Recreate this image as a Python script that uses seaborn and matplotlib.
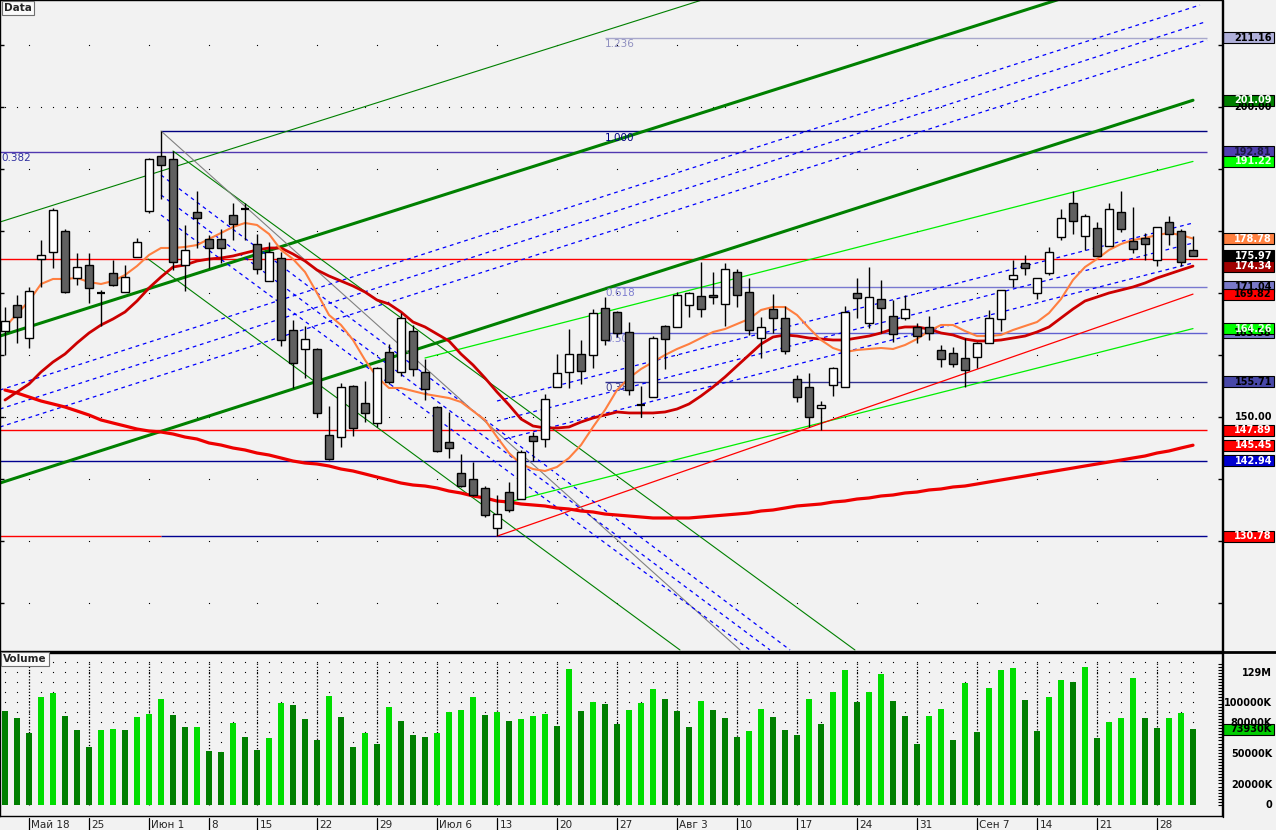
import matplotlib
matplotlib.use("Agg")
import matplotlib.pyplot as plt
import matplotlib.transforms as mtransforms
from matplotlib.lines import Line2D
from matplotlib.patches import Rectangle
import numpy as np
import pandas as pd
import seaborn as sns

# ---- data --------------------------------------------------------------
week_labels = ["Май 18", "25", "Июн 1", "8", "15", "22", "29", "Июл 6", "13", "20",
               "27", "Авг 3", "10", "17", "24", "31", "Сен 7", "14", "21", "28"]
week_start_bars = [2, 7, 12, 17, 21, 26, 31, 36, 41, 46, 51, 56, 61, 66, 71, 76,
                   81, 86, 91, 96]

opens = [163.87, 168.06, 162.74, 175.48, 176.61, 180.00, 172.42, 174.52, 170.00, 173.23,
         170.16, 175.81, 183.23, 192.10, 191.61, 174.52, 183.06, 178.71, 178.71, 182.58,
         183.55, 177.90, 171.94, 175.65, 164.03, 160.97, 160.97, 147.10, 146.77, 155.00,
         152.26, 149.03, 160.48, 157.26, 163.87, 157.26, 151.61, 145.97, 140.97, 140.00,
         138.55, 132.10, 137.90, 136.77, 146.94, 146.45, 154.84, 157.26, 160.16, 160.00,
         167.58, 166.94, 163.71, 151.94, 153.23, 164.68, 164.52, 168.06, 169.52, 169.68,
         168.23, 173.39, 170.16, 162.74, 167.42, 165.97, 156.13, 154.84, 151.45, 155.16,
         154.84, 170.00, 165.16, 169.03, 166.29, 165.97, 164.52, 164.52, 160.81, 160.32,
         159.52, 159.68, 161.94, 165.81, 172.26, 174.84, 170.00, 173.23, 179.03, 184.52,
         179.19, 180.48, 177.58, 183.06, 178.39, 178.87, 175.32, 181.45, 180.00, 176.94]
highs = [167.74, 169.68, 170.97, 178.55, 183.71, 180.32, 176.45, 176.45, 170.48, 175.32,
         174.52, 178.87, 191.77, 196.13, 192.90, 180.97, 186.45, 179.35, 180.32, 184.52,
         184.52, 179.52, 178.23, 176.61, 165.65, 164.68, 161.13, 151.77, 155.48, 155.16,
         155.81, 158.06, 161.77, 166.77, 164.84, 159.35, 151.77, 150.81, 144.03, 142.74,
         138.87, 137.42, 139.52, 144.68, 147.58, 153.71, 160.16, 164.19, 162.42, 167.42,
         169.35, 167.10, 165.32, 155.00, 163.06, 164.84, 170.16, 170.16, 175.00, 173.39,
         174.84, 173.87, 172.42, 166.13, 169.84, 167.90, 156.77, 157.10, 152.58, 158.06,
         167.90, 172.42, 174.19, 172.10, 168.87, 169.68, 165.16, 166.29, 161.61, 161.29,
         162.74, 162.10, 167.26, 170.48, 175.32, 176.13, 172.42, 177.42, 183.55, 186.45,
         182.74, 181.45, 184.52, 186.45, 183.87, 179.68, 180.65, 182.42, 180.32, 179.19]
lows = [160.00, 161.94, 161.13, 170.97, 174.03, 170.00, 171.29, 168.39, 164.68, 171.13,
        170.16, 175.81, 182.90, 185.16, 173.71, 170.32, 177.26, 174.03, 174.84, 178.55,
        178.55, 173.06, 171.94, 161.45, 154.68, 156.29, 150.00, 143.06, 145.16, 146.94,
        149.19, 148.39, 155.32, 156.61, 156.61, 152.74, 144.35, 143.39, 138.71, 137.26,
        133.87, 130.78, 134.68, 136.77, 142.90, 145.16, 154.84, 154.68, 155.32, 157.90,
        161.61, 162.90, 153.55, 150.00, 153.23, 157.74, 164.52, 166.13, 166.13, 168.23,
        164.68, 167.74, 163.23, 159.52, 163.55, 160.16, 152.42, 148.39, 147.90, 153.39,
        154.84, 165.97, 164.35, 163.55, 162.10, 165.65, 161.94, 162.42, 158.06, 158.06,
        154.84, 157.90, 161.94, 163.87, 170.97, 172.90, 169.03, 172.90, 178.55, 179.52,
        176.94, 175.97, 177.58, 179.84, 176.45, 175.32, 174.35, 177.74, 174.35, 175.97]
closes = [165.48, 166.13, 170.32, 176.13, 183.39, 170.16, 174.19, 170.81, 170.05, 171.29,
          172.58, 178.23, 191.61, 190.65, 175.00, 176.94, 182.10, 177.26, 177.26, 181.13,
          183.50, 173.87, 176.61, 162.42, 158.71, 162.58, 150.65, 143.23, 154.84, 148.23,
          150.65, 157.90, 155.65, 165.97, 157.74, 154.52, 144.52, 145.00, 138.87, 137.42,
          134.19, 134.35, 135.00, 144.35, 146.13, 152.90, 157.10, 160.16, 157.42, 166.77,
          162.42, 163.55, 154.35, 151.90, 162.74, 162.58, 169.68, 170.00, 167.42, 169.35,
          173.87, 169.68, 164.03, 164.52, 165.97, 160.65, 153.23, 150.00, 151.94, 157.90,
          166.94, 169.19, 169.35, 167.58, 163.39, 167.42, 163.06, 163.55, 159.35, 158.55,
          157.58, 161.94, 165.97, 170.48, 172.90, 174.03, 172.42, 176.61, 182.10, 181.61,
          182.42, 175.97, 183.55, 180.32, 177.10, 177.90, 180.65, 179.52, 175.00, 175.97]
volume_k = [91800, 84600, 69800, 105300, 109500, 86600, 72800, 56100, 72800, 73800,
            72800, 85600, 88500, 103300, 87600, 75700, 76000, 53100, 52100, 79700,
            65900, 54100, 64900, 99400, 97400, 83600, 63000, 106200, 85600, 56100,
            69800, 60000, 95400, 81600, 67900, 65900, 69800, 90500, 92500, 105300,
            87600, 90500, 81600, 83600, 86600, 88500, 76700, 132800, 91500, 100300,
            98400, 78700, 92500, 99400, 113100, 103300, 91500, 75700, 101300, 92500,
            84600, 65900, 71800, 93500, 85600, 72800, 67900, 103300, 78700, 110200,
            131800, 100300, 110200, 127900, 101300, 86600, 60000, 86600, 93500, 63000,
            119000, 70800, 114100, 131800, 133800, 102300, 71800, 105300, 122000, 120000,
            134800, 64900, 80700, 84600, 123900, 84600, 74800, 84600, 89500, 73930]
ma_fast = [164.52, 166.61, 168.71, 171.45, 172.26, 172.26, 172.42, 171.77, 171.45, 171.94,
           172.90, 174.35, 176.13, 177.26, 177.26, 177.42, 177.74, 178.71, 179.68, 180.65,
           181.29, 180.97, 179.52, 176.94, 175.48, 173.39, 170.00, 166.45, 164.84, 162.42,
           159.19, 156.45, 154.68, 154.68, 154.19, 153.71, 153.39, 153.06, 152.42, 150.97,
           149.52, 146.77, 144.19, 142.42, 141.61, 141.29, 141.94, 143.39, 145.48, 148.39,
           151.13, 154.35, 156.29, 157.74, 158.87, 160.00, 160.97, 161.77, 162.74, 163.71,
           164.19, 165.00, 165.81, 167.26, 167.74, 167.74, 166.45, 164.35, 162.42, 161.13,
           160.48, 160.81, 160.97, 161.13, 160.97, 161.61, 162.58, 163.87, 164.84, 164.84,
           163.87, 163.06, 163.06, 163.23, 164.03, 164.68, 165.32, 166.77, 169.03, 172.10,
           174.19, 175.48, 176.94, 177.90, 178.55, 178.87, 179.35, 179.68, 179.35, 178.78]
ma_mid = [152.74, 154.03, 155.32, 157.26, 158.87, 160.16, 161.94, 163.55, 164.84, 165.81,
          166.94, 168.71, 170.81, 172.58, 174.19, 174.52, 175.16, 175.48, 175.65, 175.97,
          176.45, 176.94, 177.26, 177.26, 176.29, 175.16, 173.71, 172.74, 171.94, 171.13,
          170.16, 168.87, 168.23, 166.94, 165.32, 164.52, 163.39, 162.26, 160.16, 158.39,
          156.29, 154.03, 151.94, 149.68, 148.55, 148.23, 148.23, 148.39, 149.19, 149.84,
          150.32, 150.81, 150.65, 150.65, 150.65, 150.81, 151.29, 152.10, 153.39, 154.84,
          156.45, 158.23, 160.00, 161.77, 162.90, 163.23, 163.06, 162.74, 162.58, 162.42,
          162.42, 162.74, 163.06, 163.55, 164.19, 164.52, 164.52, 164.19, 163.55, 163.23,
          162.58, 162.26, 162.26, 162.42, 162.74, 163.06, 163.71, 164.52, 165.97, 167.42,
          168.71, 169.35, 170.00, 170.48, 170.97, 171.61, 172.42, 173.06, 173.71, 174.34]
ma_slow = [154.35, 153.87, 153.23, 152.58, 152.10, 151.61, 150.97, 150.32, 149.52, 149.03,
           148.55, 148.06, 147.74, 147.58, 147.26, 146.77, 146.45, 145.81, 145.48, 145.00,
           144.68, 144.19, 143.87, 143.39, 142.90, 142.58, 142.42, 142.10, 141.61, 141.29,
           140.81, 140.32, 139.84, 139.35, 139.03, 138.87, 138.55, 138.06, 137.74, 137.26,
           136.94, 136.45, 136.29, 135.97, 135.81, 135.65, 135.32, 135.16, 134.84, 134.68,
           134.35, 134.19, 134.03, 133.87, 133.71, 133.71, 133.71, 133.71, 133.87, 134.03,
           134.19, 134.35, 134.52, 134.84, 135.00, 135.32, 135.65, 135.81, 135.97, 136.29,
           136.45, 136.77, 136.94, 137.26, 137.42, 137.74, 137.90, 138.23, 138.39, 138.71,
           138.87, 139.19, 139.52, 139.84, 140.16, 140.48, 140.81, 141.13, 141.45, 141.77,
           142.10, 142.42, 142.74, 143.06, 143.39, 143.71, 144.19, 144.52, 145.00, 145.45]

# drawn objects: (bar0, price0, bar1, price1)
trend_lines = {
    "green_thick_up": (-0.42, 163.06, 87.92, 217.42),
    "green_thick_lo": (-0.42, 139.35, 99.0, 201.09),
    "green_thin_up": (-0.42, 181.45, 58.08, 217.26),
    "green_down_1": (14.0, 192.90, 70.83, 112.42),
    "green_down_2": (11.92, 175.48, 56.25, 112.42),
    "lime_up": (35.0, 159.52, 99.0, 191.22),
    "lime_lo": (41.67, 136.13, 99.0, 164.26),
    "red_up": (41.0, 130.78, 99.0, 169.82),
    "gray_down": (13.0, 196.13, 61.25, 112.42),
    "dash_up_1": (-0.42, 154.35, 99.58, 216.45),
    "dash_up_2": (-0.42, 151.29, 100.0, 213.71),
    "dash_up_3": (-0.42, 148.39, 100.17, 210.81),
    "dash_lo_1": (41.0, 152.58, 99.0, 181.29),
    "dash_lo_2": (41.0, 149.35, 99.0, 178.06),
    "dash_lo_3": (41.0, 146.13, 99.0, 174.84),
    "dash_down_1": (13.0, 189.03, 65.42, 112.42),
    "dash_down_2": (13.0, 185.81, 63.75, 112.42),
    "dash_down_3": (13.0, 182.58, 62.08, 112.42),
}
# horizontal levels: (price, first bar, last bar)
levels = {
    "fib_top_0382": (192.81, -0.42, 100.17),
    "fib_1000": (196.13, 13.0, 100.17),
    "fib_1236": (211.16, 50.0, 100.17),
    "fib_0618": (171.04, 50.0, 100.17),
    "fib_0500": (163.58, 50.0, 100.17),
    "fib_0382": (155.71, 50.0, 100.17),
    "red_mid": (175.48, -0.42, 100.17),
    "red_low": (147.89, -0.42, 100.17),
    "navy_low": (142.94, -0.42, 100.17),
    "low_left": (130.78, -0.42, 13.0),
    "low_right": (130.78, 13.0, 100.17),
}
fib_texts = [("1.236", 50.0, 211.16), ("1.000", 50.0, 196.13), ("0.618", 50.0, 171.04),
             ("0.500", 50.0, 163.58), ("0.382", 50.0, 155.71), ("0.382", -0.3, 192.81)]

# ---- styles --------------------------------------------------------------
BG = "#f2f2f2"
DASH = (0, (3, 3))
line_style = {
    "green_thick_up": dict(color="#008000", lw=2.2),
    "green_thick_lo": dict(color="#008000", lw=2.2),
    "green_thin_up": dict(color="#008000", lw=0.8),
    "green_down_1": dict(color="#008000", lw=0.8),
    "green_down_2": dict(color="#008000", lw=0.8),
    "lime_up": dict(color="#00ee00", lw=0.9),
    "lime_lo": dict(color="#00ee00", lw=0.9),
    "red_up": dict(color="#ff0000", lw=0.9),
    "gray_down": dict(color="#808080", lw=0.8),
}
level_style = {
    "fib_top_0382": dict(color="#5038b0", lw=1.0),
    "fib_1000": dict(color="#000080", lw=1.0),
    "fib_1236": dict(color="#a8a8cc", lw=1.0),
    "fib_0618": dict(color="#7878d0", lw=1.0),
    "fib_0500": dict(color="#6060d0", lw=1.0),
    "fib_0382": dict(color="#303090", lw=1.0),
    "red_mid": dict(color="#ff0000", lw=1.0),
    "red_low": dict(color="#ff0000", lw=1.0),
    "navy_low": dict(color="#000090", lw=1.0),
    "low_left": dict(color="#ff0000", lw=1.0),
    "low_right": dict(color="#000090", lw=1.0),
}
fib_text_colors = ["#9090c0", "#000080", "#8080d0", "#8080d0", "#404090", "#3030a0"]

W, H = 1276, 830
PX_PER_PRICE = 6.2
PX_PER_KVOL = 1.025 / 1000

sns.set_theme(style="white")
plt.rcParams["font.family"] = ["DejaVu Sans"]

fig = plt.figure(figsize=(W / 100, H / 100), dpi=100, facecolor=BG)


def px_rect(x0, y0, x1, y1):
    return [x0 / W, 1 - y1 / H, (x1 - x0) / W, (y1 - y0) / H]


ax = fig.add_axes(px_rect(0, 0, 1222, 651))
axv = fig.add_axes(px_rect(0, 653, 1222, 816))
for a in (ax, axv):
    a.set_facecolor(BG)
    for s in a.spines.values():
        s.set_color("black")
        s.set_linewidth(1.0)

bars = np.arange(len(closes))
o, h, l, c = (np.array(v) for v in (opens, highs, lows, closes))
xlim = (-5 / 12, 1217 / 12)

# background dots
for lvl in range(120, 211, 10):
    xs = bars if lvl in (150, 200) else np.array(week_start_bars)
    ax.plot(xs, np.full(len(xs), lvl), ls="none", marker="s", ms=0.8,
            mew=0, color="black", zorder=1)

for name, (p, b0, b1) in levels.items():
    ax.hlines(p, b0, b1, zorder=2, **level_style[name])

for name, (b0, p0, b1, p1) in trend_lines.items():
    if name.startswith("dash"):
        ax.plot([b0, b1], [p0, p1], color="#0000ff", lw=0.9, ls=DASH, zorder=2)
    else:
        ax.plot([b0, b1], [p0, p1], zorder=2, **line_style[name])

for (txt, b, p), col in zip(fib_texts, fib_text_colors):
    ax.text(b, p - 0.25, txt, color=col, fontsize=7.5, ha="left", va="top", zorder=2)

# moving averages
sns.lineplot(x=bars, y=ma_slow, ax=ax, color="#ee0000", lw=2.3, zorder=3)
sns.lineplot(x=bars, y=ma_mid, ax=ax, color="#cc0000", lw=2.0, zorder=4)
sns.lineplot(x=bars, y=ma_fast, ax=ax, color="#ff7f40", lw=1.5, zorder=4)

# candles
up = c >= o
flat = np.abs(c - o) < 0.2
ax.vlines(bars, l, h, color="black", lw=1.0, zorder=5)
solid = ~flat
ax.bar(bars[solid], np.abs(c - o)[solid], bottom=np.minimum(o, c)[solid], width=0.68,
       color=np.where(up, "white", "#606060")[solid], edgecolor="black", lw=1.0, zorder=6)
ax.hlines(c[flat], bars[flat] - 0.36, bars[flat] + 0.36, color="black", lw=1.6, zorder=6)

ax.set_xlim(*xlim)
ax.set_ylim(150 - 234 / PX_PER_PRICE, 150 + 417 / PX_PER_PRICE)
ax.set_xticks([])
ax.set_yticks(range(120, 220, 10))
ax.tick_params(axis="y", direction="in", length=3, width=1, color="black",
               left=True, right=True, labelleft=False, labelright=False)
ax.set_xlabel("")
ax.set_ylabel("")

# ---- volume pane ---------------------------------------------------------
vol_df = pd.DataFrame({"bar": bars, "volume": volume_k})
vol_df["dir"] = np.where(vol_df["volume"].diff() > 0, "up", "down")
top_k = (805 - 662) / 1.025 * 1000
for k in range(15):
    yk = (805 - (662 + 10 * k)) / 1.025 * 1000
    axv.plot(bars, np.full(len(bars), yk), ls="none", marker="s", ms=0.8, mew=0,
             color="black", zorder=1)
axv.vlines(week_start_bars, 0, top_k, colors="black", linestyles=(0, (1, 1.5)),
           lw=0.9, zorder=1)
sns.barplot(data=vol_df, x="bar", y="volume", hue="dir",
            palette={"up": "#00dd00", "down": "#007f00"}, dodge=False, width=0.55,
            saturation=1, legend=False, errorbar=None, linewidth=0, ax=axv, zorder=3)
axv.set_xlim(*xlim)
axv.set_ylim((805 - 816) / PX_PER_KVOL, (805 - 653) / PX_PER_KVOL)
axv.set_xticks([])
axv.set_yticks(np.arange(0, 141000, 3000))
axv.tick_params(axis="y", direction="in", length=3, width=0.8, color="black",
                left=False, right=True, labelleft=False, labelright=False)
axv.set_xlabel("")
axv.set_ylabel("")

# ---- right-hand value tags ----------------------------------------------
def tag(axis, value, text, face, color, half_h, edge="black"):
    tr = mtransforms.blended_transform_factory(fig.transFigure, axis.transData)
    if face is not None:
        axis.add_patch(Rectangle((1223 / W, value - half_h), 51 / W, 2 * half_h,
                                 transform=tr, facecolor=face, edgecolor=edge,
                                 lw=0.8, clip_on=False, zorder=20))
    axis.text(1272 / W, value, text, transform=tr, ha="right", va="center",
              fontsize=7, fontweight="bold", color=color, clip_on=False, zorder=21)


hp = 5.5 / PX_PER_PRICE
tag(ax, 200.0, "200.00", None, "black", hp)
tag(ax, 150.0, "150.00", None, "black", hp)
price_tags = [
    (211.16, "#b0b0da", "black"), (201.09, "#008000", "white"),
    (192.81, "#5040b0", "#1a1a40"), (191.22, "#00ff00", "#e8ffe8"),
    (178.78, "#ff8040", "white"),
    (175.97, "black", "white"), (174.34, "#a00000", "white"),
    (171.04, "#7878c8", "black"), (169.82, "#ff0000", "black"),
    (163.58, "#7878c8", "black"), (164.26, "#00ff00", "#e8ffe8"),
    (155.71, "#4848a8", "black"), (147.89, "#ff0000", "white"),
    (145.45, "#ff0000", "white"), (142.94, "#0000d0", "white"),
    (130.78, "#ff0000", "white"),
]
for v, face, col in price_tags:
    tag(ax, v, f"{v:.2f}", face, col, hp)

hv = 5.5 / PX_PER_KVOL
for v, txt in [(129000, "129M"), (100000, "100000K"), (80000, "80000K"),
               (50000, "50000K"), (20000, "20000K"), (0, "0")]:
    tag(axv, v, txt, None, "black", hv)
tag(axv, volume_k[-1], f"{volume_k[-1]}K", "#00cc00", "black", hv)

# pane separator across the full width
fig.add_artist(Line2D([0, 1], [1 - 652 / H] * 2, color="black", lw=2.0))
fig.add_artist(Line2D([1222.5 / W] * 2, [1 - 817 / H, 1], color="black", lw=1.0))

# date strip
tr_date = mtransforms.blended_transform_factory(axv.transData, fig.transFigure)
for b, lab in zip(week_start_bars, week_labels):
    axv.add_line(Line2D([b, b], [0, 12 / H], transform=tr_date, color="black",
                        lw=0.9, clip_on=False))
    axv.text(b + 0.2, 5.5 / H, lab, transform=tr_date, ha="left", va="center",
             fontsize=7.5, clip_on=False)

# pane captions
box = dict(boxstyle="square,pad=0.2", fc="#fafafa", ec="#707070", lw=0.8)
fig.text(4 / W, 1 - 8 / H, "Data", fontsize=7.5, fontweight="bold", ha="left",
         va="center", bbox=box)
fig.text(3 / W, 1 - 659 / H, "Volume", fontsize=7.5, fontweight="bold", ha="left",
         va="center", bbox=box)

fig.savefig("out.png", dpi=100, facecolor=BG)
